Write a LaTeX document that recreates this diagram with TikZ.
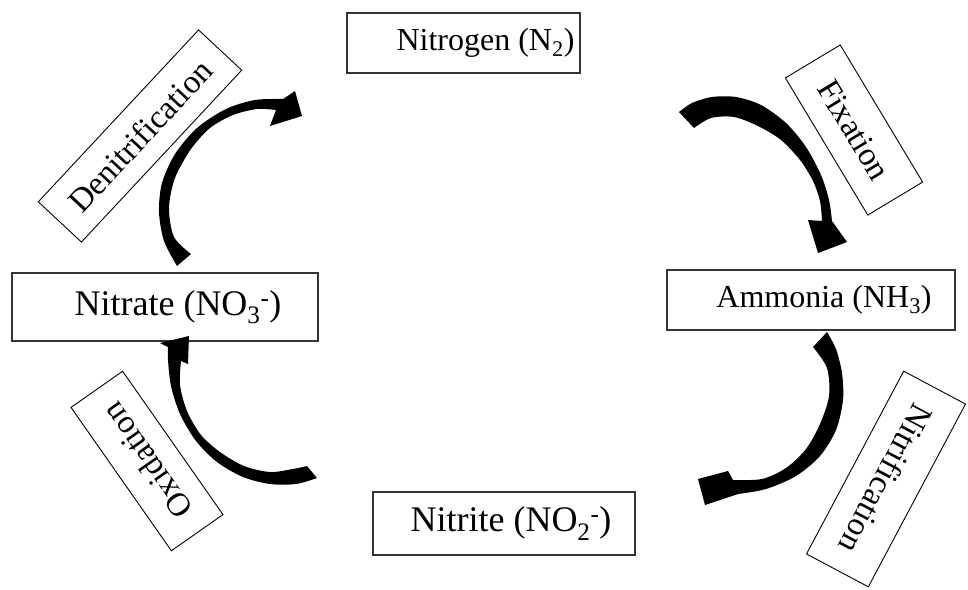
\documentclass[tikz,border=0pt]{standalone}
\usepackage{fontspec}
\setmainfont{Liberation Serif}
\usetikzlibrary{calc}
\begin{document}
\begin{tikzpicture}[x=1pt,y=-1pt,
  box/.style={draw=black!80, line width=1.2pt, inner sep=0pt},
  txt/.style={font=\fontsize{32}{38}\selectfont, inner sep=0pt},
  bigtxt/.style={font=\fontsize{36}{42}\selectfont, inner sep=0pt},
  rbox/.style={draw=black, line width=0.9pt, inner sep=0pt, font=\fontsize{33}{39}\selectfont},
  band/.style={fill=black}]
\useasboundingbox (0,0) rectangle (968,589);

% compound boxes
\node[box, minimum width=233pt, minimum height=60pt] (nitrogen) at (463.5,43) {};
\node[txt] (tN) at ([xshift=22pt]nitrogen.center) {Nitrogen (N\textsubscript{2})};

\node[box, minimum width=288pt, minimum height=60pt] (ammonia) at (811,300) {};
\node[txt] (tA) at ([xshift=13pt]ammonia.center) {Ammonia (NH\textsubscript{3})};

\node[box, minimum width=306pt, minimum height=68pt] (nitrate) at (165,307) {};
\node[bigtxt] (tT) at ([xshift=13pt]nitrate.center) {Nitrate (NO\textsubscript{3}\textsuperscript{-})};

\node[box, minimum width=262pt, minimum height=63pt] (nitrite) at (504,523.5) {};
\node[bigtxt] (tI) at ([xshift=7pt]nitrite.center) {Nitrite (NO\textsubscript{2}\textsuperscript{-})};

% process labels
\node[rbox, rotate=47, minimum width=235pt, minimum height=59pt] (denit) at (140,136) {Denitrification};
\node[rbox, rotate=-59, minimum width=160pt, minimum height=64pt] (fix) at (854,130) {Fixation};
\node[rbox, rotate=-118, minimum width=207pt, minimum height=70pt] (nitrif) at (886,479) {Nitrification};
\node[rbox, rotate=125, minimum width=175pt, minimum height=63pt] (oxid) at (147,461) {Oxidation};

% curved arrows
% Denitrification: Nitrate -> Nitrogen
\fill[band] plot[smooth] coordinates {(177,266) (164,241) (159,212) (162,183) (175,154) (197,128) (226,109) (255,100) (283,99)}
  -- (295,91) -- (302,116) -- (270,126)
  -- plot[smooth] coordinates {(276,110) (257,109) (233,115) (210,128) (191,149) (175,178) (169,208) (174,237) (191,254)} -- cycle;

% Fixation: Nitrogen -> Ammonia
\fill[band] plot[smooth] coordinates {(679,112) (692,103) (712,97) (736,97) (761,105) (786,123) (806,147) (821,175) (829,200) (832,221)}
  -- (847,242) -- (818,253) -- (808,220)
  -- plot[smooth] coordinates {(822,221) (820,201) (813,181) (800,160) (781,140) (758,126) (734,117) (711,118) (694,128)} -- cycle;

% Nitrification: Ammonia -> Nitrite
\fill[band] plot[smooth] coordinates {(827,332) (836,349) (842,373) (843,400) (836,430) (820,456) (796,476) (766,489) (738,494)}
  -- (705,505) -- (698,479) -- (728,471)
  -- plot[smooth] coordinates {(733,480) (762,479) (786,468) (806,449) (820,424) (829,396) (827,368) (813,347)} -- cycle;

% Oxidation: Nitrite -> Nitrate
\fill[band] plot[smooth] coordinates {(317,478) (296,484) (270,484) (243,477) (217,462) (196,441) (180,414) (171,386) (168,360) (168,347)}
  -- (160,343) -- (189,336) -- (188,364)
  -- plot[smooth] coordinates {(181,361) (180,385) (187,411) (201,435) (220,452) (244,466) (270,472) (293,469) (307,466)} -- cycle;
\end{tikzpicture}
\end{document}
